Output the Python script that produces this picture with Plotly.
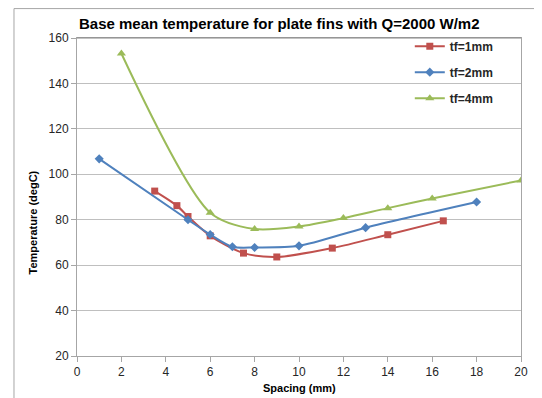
import plotly.graph_objects as go

title_text = "Base mean temperature for plate fins with Q=2000 W/m2"
x_title = "Spacing (mm)"
y_title = "Temperature (degC)"

series_names = ["tf=1mm", "tf=2mm", "tf=4mm"]

x_tf1 = [3.5, 4.5, 5, 6, 7.5, 9, 11.5, 14, 16.5]
y_tf1 = [92.6, 86.2, 81.4, 72.9, 65.3, 63.6, 67.5, 73.4, 79.5]

x_tf2 = [1, 5, 6, 7, 8, 10, 13, 18]
y_tf2 = [106.8, 80.0, 73.5, 68.1, 67.8, 68.5, 76.5, 87.8]

x_tf4 = [2, 6, 8, 10, 12, 14, 16, 20]
y_tf4 = [153.2, 83.1, 75.9, 77.0, 80.7, 85.1, 89.3, 97.3]

x_ticks = [0, 2, 4, 6, 8, 10, 12, 14, 16, 18, 20]
y_ticks = [20, 40, 60, 80, 100, 120, 140, 160]

colors = ["#C0504D", "#4F81BD", "#9BBB59"]
symbols = ["square", "diamond", "triangle-up"]
msizes = [7, 7, 8]

FONT = "Liberation Sans"

fig = go.Figure()
for i, (xs, ys) in enumerate([(x_tf1, y_tf1), (x_tf2, y_tf2), (x_tf4, y_tf4)]):
    fig.add_trace(go.Scatter(
        x=xs, y=ys, name=series_names[i], mode="lines+markers",
        legendgroup=series_names[i],
        line=dict(color=colors[i], width=2, shape="spline", smoothing=0.8),
        marker=dict(color=colors[i], symbol=symbols[i], size=msizes[i]),
    ))

fig.update_layout(
    width=534, height=390,
    margin=dict(l=69, r=21, t=30, b=42),
    paper_bgcolor="white", plot_bgcolor="white",
    font=dict(family=FONT, size=12, color="#262626"),
    showlegend=True,
    legend=dict(
        x=0.95, y=1.02, xanchor="right", yanchor="top",
        bgcolor="rgba(0,0,0,0)", borderwidth=0,
        font=dict(family=FONT, size=12, color="#262626", weight="bold"),
        traceorder="grouped", tracegroupgap=7,
        itemwidth=30,
    ),
    xaxis=dict(
        range=[0, 20], tickvals=x_ticks,
        ticktext=[str(v) for v in x_ticks],
        showgrid=False, zeroline=False,
        showline=True, linecolor="#A6A6A6", linewidth=1, mirror=True,
        ticks="outside", ticklen=5, tickcolor="#A6A6A6",
        tickfont=dict(family=FONT, size=12, color="#262626"),
    ),
    yaxis=dict(
        range=[20, 160], tickvals=y_ticks,
        ticktext=[str(v) for v in y_ticks],
        showgrid=True, gridcolor="#BFBFBF", gridwidth=1, zeroline=False,
        showline=True, linecolor="#A6A6A6", linewidth=1, mirror=True,
        ticks="outside", ticklen=5, tickcolor="#A6A6A6",
        tickfont=dict(family=FONT, size=12, color="#262626"),
    ),
    annotations=[
        dict(text="<b>" + title_text + "</b>", xref="paper", yref="paper",
             x=0.0, y=1.0, xanchor="left", yanchor="bottom", yshift=4,
             showarrow=False, font=dict(family=FONT, size=15, color="#000000")),
        dict(text="<b>" + x_title + "</b>", xref="paper", yref="paper",
             x=0.5, y=0, xanchor="center", yanchor="top", yshift=-24,
             showarrow=False, font=dict(family=FONT, size=11, color="#000000")),
        dict(text="<b>" + y_title + "</b>", xref="paper", yref="paper",
             x=0, y=0.42, xanchor="right", yanchor="middle", xshift=-36,
             textangle=-90, showarrow=False,
             font=dict(family=FONT, size=11, color="#000000")),
    ],
    shapes=[
        dict(type="line", xref="paper", yref="paper", x0=-0.1419, x1=1.5,
             y0=1.0925, y1=1.0925, line=dict(color="#A6A6A6", width=1)),
        dict(type="line", xref="paper", yref="paper", x0=-0.1419, x1=-0.1419,
             y0=1.0925, y1=-0.5, line=dict(color="#A6A6A6", width=1)),
        dict(type="line", xref="paper", yref="paper", x0=0, x1=1,
             y0=1, y1=1, line=dict(color="#868686", width=1)),
    ],
)

fig.write_html("out.html")
